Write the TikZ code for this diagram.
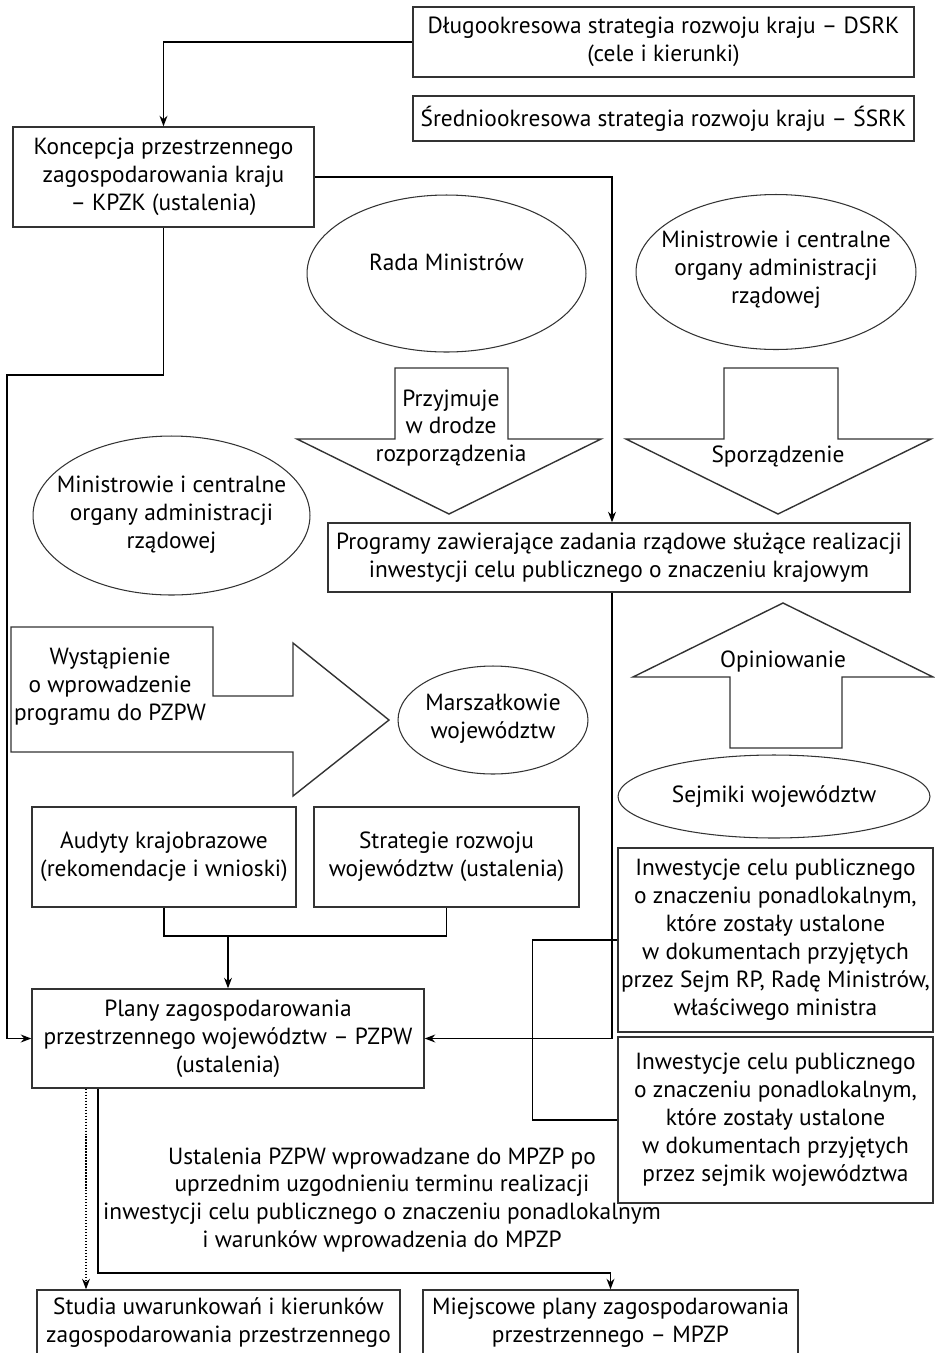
\documentclass[tikz,border=0pt]{standalone}
\usepackage{fontspec}
\setmainfont{PT Sans}
\usetikzlibrary{shapes.geometric,arrows.meta}

\begin{document}
\begin{tikzpicture}[x=0.02cm, y=-0.02cm, line width=0.7pt,
  every node/.style={font=\fontsize{13.3}{15.9}\selectfont},
  box/.style={draw=black!80, line width=0.8pt, align=center, inner sep=0pt},
  oval/.style={draw=black!80, line width=0.6pt, ellipse, inner sep=0pt},
  txt/.style={align=center, inner sep=0pt},
  fat/.style={draw=black!80, line width=0.8pt, line join=miter},
  >={Stealth[length=6pt, width=4.5pt]}]
\useasboundingbox (0,0) rectangle (934,1353);

% boxes
\node[box, minimum width=10.02cm, minimum height=1.4cm] (dsrk) at (663.5,42) {Długookresowa strategia rozwoju kraju -- DSRK\\(cele i kierunki)};
\node[box, minimum width=10.02cm, minimum height=0.9cm] (ssrk) at (663.5,118.5) {Średniookresowa strategia rozwoju kraju -- ŚSRK};
\node[box, minimum width=6.02cm, minimum height=2cm] (kpzk) at (163.5,177) {Koncepcja przestrzennego\\zagospodarowania kraju\\-- KPZK (ustalenia)};
\node[box, minimum width=11.64cm, minimum height=1.38cm] (programy) at (619,557.5) {Programy zawierające zadania rządowe służące realizacji\\inwestycji celu publicznego o znaczeniu krajowym};
\node[box, minimum width=5.28cm, minimum height=2cm] (audyty) at (164,857) {Audyty krajobrazowe\\(rekomendacje i wnioski)};
\node[box, minimum width=5.3cm, minimum height=2cm] (strategie) at (446.5,857) {Strategie rozwoju\\województw (ustalenia)};
\node[box, minimum width=7.84cm, minimum height=1.98cm] (pzpw) at (228,1038.5) {Plany zagospodarowania\\przestrzennego województw -- PZPW\\(ustalenia)};
\node[box, minimum width=6.3cm, minimum height=3.68cm] (inw1) at (775.5,940) {Inwestycje celu publicznego\\o znaczeniu ponadlokalnym,\\które zostały ustalone\\w dokumentach przyjętych\\przez Sejm RP, Radę Ministrów,\\właściwego ministra};
\node[box, minimum width=6.3cm, minimum height=3.32cm] (inw2) at (775.5,1120) {Inwestycje celu publicznego\\o znaczeniu ponadlokalnym,\\które zostały ustalone\\w dokumentach przyjętych\\przez sejmik województwa};
\node[box, minimum width=7.26cm, minimum height=1.32cm] (studia) at (218.5,1323) {Studia uwarunkowań i kierunków\\zagospodarowania przestrzennego};
\node[box, minimum width=7.5cm, minimum height=1.32cm] (mpzp) at (610.5,1323) {Miejscowe plany zagospodarowania\\przestrzennego -- MPZP};
\node[txt] (ustalenia) at (382,1200) {Ustalenia PZPW wprowadzane do MPZP po\\uprzednim uzgodnieniu terminu realizacji\\inwestycji celu publicznego o znaczeniu ponadlokalnym\\i warunków wprowadzenia do MPZP};

% ellipses
\node[oval, minimum width=5.58cm, minimum height=3.14cm] (rada) at (446.5,273.5) {};
\node[txt] (radat) at (446.5,262) {Rada Ministrów};
\node[oval, minimum width=5.6cm, minimum height=3.1cm] (minR) at (776,272) {};
\node[txt] (minRt) at (776,270) {Ministrowie i centralne\\organy administracji\\rządowej};
\node[oval, minimum width=5.54cm, minimum height=3.18cm] (minL) at (171.5,515.5) {};
\node[txt] (minLt) at (171.5,515) {Ministrowie i centralne\\organy administracji\\rządowej};
\node[oval, minimum width=3.8cm, minimum height=2.16cm] (marsz) at (493,720) {};
\node[txt] (marszt) at (493,719) {Marszałkowie\\województw};
\node[oval, minimum width=6.24cm, minimum height=1.66cm] (sejm) at (774,796.5) {};
\node[txt] (sejmt) at (774,797) {Sejmiki województw};

% block arrows
\draw[fat] (395,368) -- (508,368) -- (508,439) -- (601,439) -- (449,514) -- (297,439) -- (395,439) -- cycle;
\node[txt] (przyj) at (451,428) {Przyjmuje\\w drodze\\rozporządzenia};
\draw[fat] (724,368) -- (838,368) -- (838,439) -- (931,439) -- (778,514) -- (626,439) -- (724,439) -- cycle;
\node[txt] (sporz) at (778,457) {Sporządzenie};
\draw[fat] (783,603) -- (933,677) -- (842,677) -- (842,748) -- (730,748) -- (730,677) -- (633,677) -- cycle;
\node[txt] (opin) at (783,662) {Opiniowanie};
\draw[fat] (11,627) -- (213,627) -- (213,696) -- (293,696) -- (293,643) -- (389,720) -- (293,796) -- (293,752) -- (11,752) -- cycle;
\node[txt] (wyst) at (110,687) {Wystąpienie\\o wprowadzenie\\programu do PZPW};

% connectors
\coordinate (v1) at (612,0);
\coordinate (bendL) at (7,375);
\coordinate (join) at (228,936);
\coordinate (dotx) at (86,0);
\coordinate (bendB) at (98,1273);

\draw[->] (dsrk.west) -| (kpzk.north);
\draw[->] (kpzk.east) -| (v1 |- programy.north);
\draw[->] (kpzk.south) |- (bendL) |- (pzpw.west);
\draw[->] (v1 |- programy.south) |- (pzpw.east);
\draw (inw1.west) -- ++(-85,0) |- (inw2.west);
\draw (audyty.south) |- (join) -| (strategie.south);
\draw[->] (join) -- (pzpw.north);
\draw[->, densely dotted] (pzpw.south -| dotx) -- (studia.north -| dotx);
\draw[->] (pzpw.south -| bendB) -- (bendB) -| (mpzp.north);
\end{tikzpicture}
\end{document}
